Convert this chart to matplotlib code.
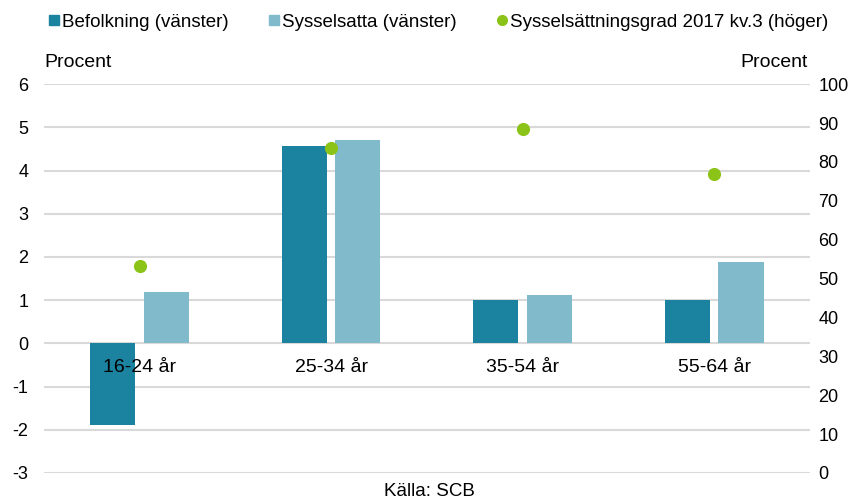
import matplotlib
matplotlib.use("Agg")
import matplotlib.pyplot as plt
import numpy as np
from matplotlib.lines import Line2D

plt.rcParams['font.family'] = ['Liberation Sans', 'DejaVu Sans']
plt.rcParams['axes.unicode_minus'] = False

# data
kategorier = ['16-24 år', '25-34 år', '35-54 år', '55-64 år']
befolkning = [-1.88, 4.57, 1.01, 1.01]
sysselsatta = [1.2, 4.71, 1.13, 1.88]
grad = [53.2, 83.5, 88.5, 77.0]

left_ticks = list(range(-3, 7))
right_ticks = list(range(0, 101, 10))

c_dark = '#1B82A0'
c_light = '#80BACB'
c_green = '#8CC319'

fig = plt.figure(figsize=(8.58, 5.01), dpi=100)
ax = fig.add_axes([0.051, 0.056, 0.893, 0.776])
ax2 = ax.twinx()

x = np.arange(len(kategorier))
w = 0.235
ax.bar(x - 0.14, befolkning, w, color=c_dark, zorder=3)
ax.bar(x + 0.14, sysselsatta, w, color=c_light, zorder=3)
ax2.scatter(x, grad, s=90, color=c_green, zorder=4, linewidths=0)

ax.set_xlim(-0.5, 3.5)
ax.set_ylim(-3, 6)
ax2.set_ylim(0, 100)
ax.set_yticks(left_ticks)
ax2.set_yticks(right_ticks)
ax.set_xticks([])
ax.grid(axis='y', color='#D9D9D9', linewidth=1.5, zorder=0)
ax.set_axisbelow(True)

for a in (ax, ax2):
    for s in a.spines.values():
        s.set_visible(False)
    a.tick_params(length=0, labelsize=13)
ax.tick_params(axis='y', pad=11)
ax2.tick_params(axis='y', pad=6)

# kategorietiketter vid nollinjen
for i, k in enumerate(kategorier):
    ax.annotate(k, (i, 0), xytext=(0, -11), textcoords='offset points',
                ha='center', va='top', fontsize=14, zorder=5)

fig.text(0.052, 0.876, 'Procent', fontsize=14, ha='left', va='center')
fig.text(0.942, 0.876, 'Procent', fontsize=14, ha='right', va='center')
fig.text(0.5, 0.018, 'Källa: SCB', fontsize=13.5, ha='center', va='center')

handles = [
    Line2D([], [], marker='s', linestyle='none', color=c_dark, markersize=7),
    Line2D([], [], marker='s', linestyle='none', color=c_light, markersize=7),
    Line2D([], [], marker='o', linestyle='none', color=c_green, markersize=7),
]
labels = ['Befolkning (vänster)', 'Sysselsatta (vänster)',
          'Sysselsättningsgrad 2017 kv.3 (höger)']
fig.legend(handles, labels, loc='center', bbox_to_anchor=(0.511, 0.956), ncol=3,
           frameon=False, fontsize=13.5, handletextpad=0.15, columnspacing=2.1,
           handlelength=0.6, borderpad=0.2)

fig.savefig('out.png', dpi=100)
